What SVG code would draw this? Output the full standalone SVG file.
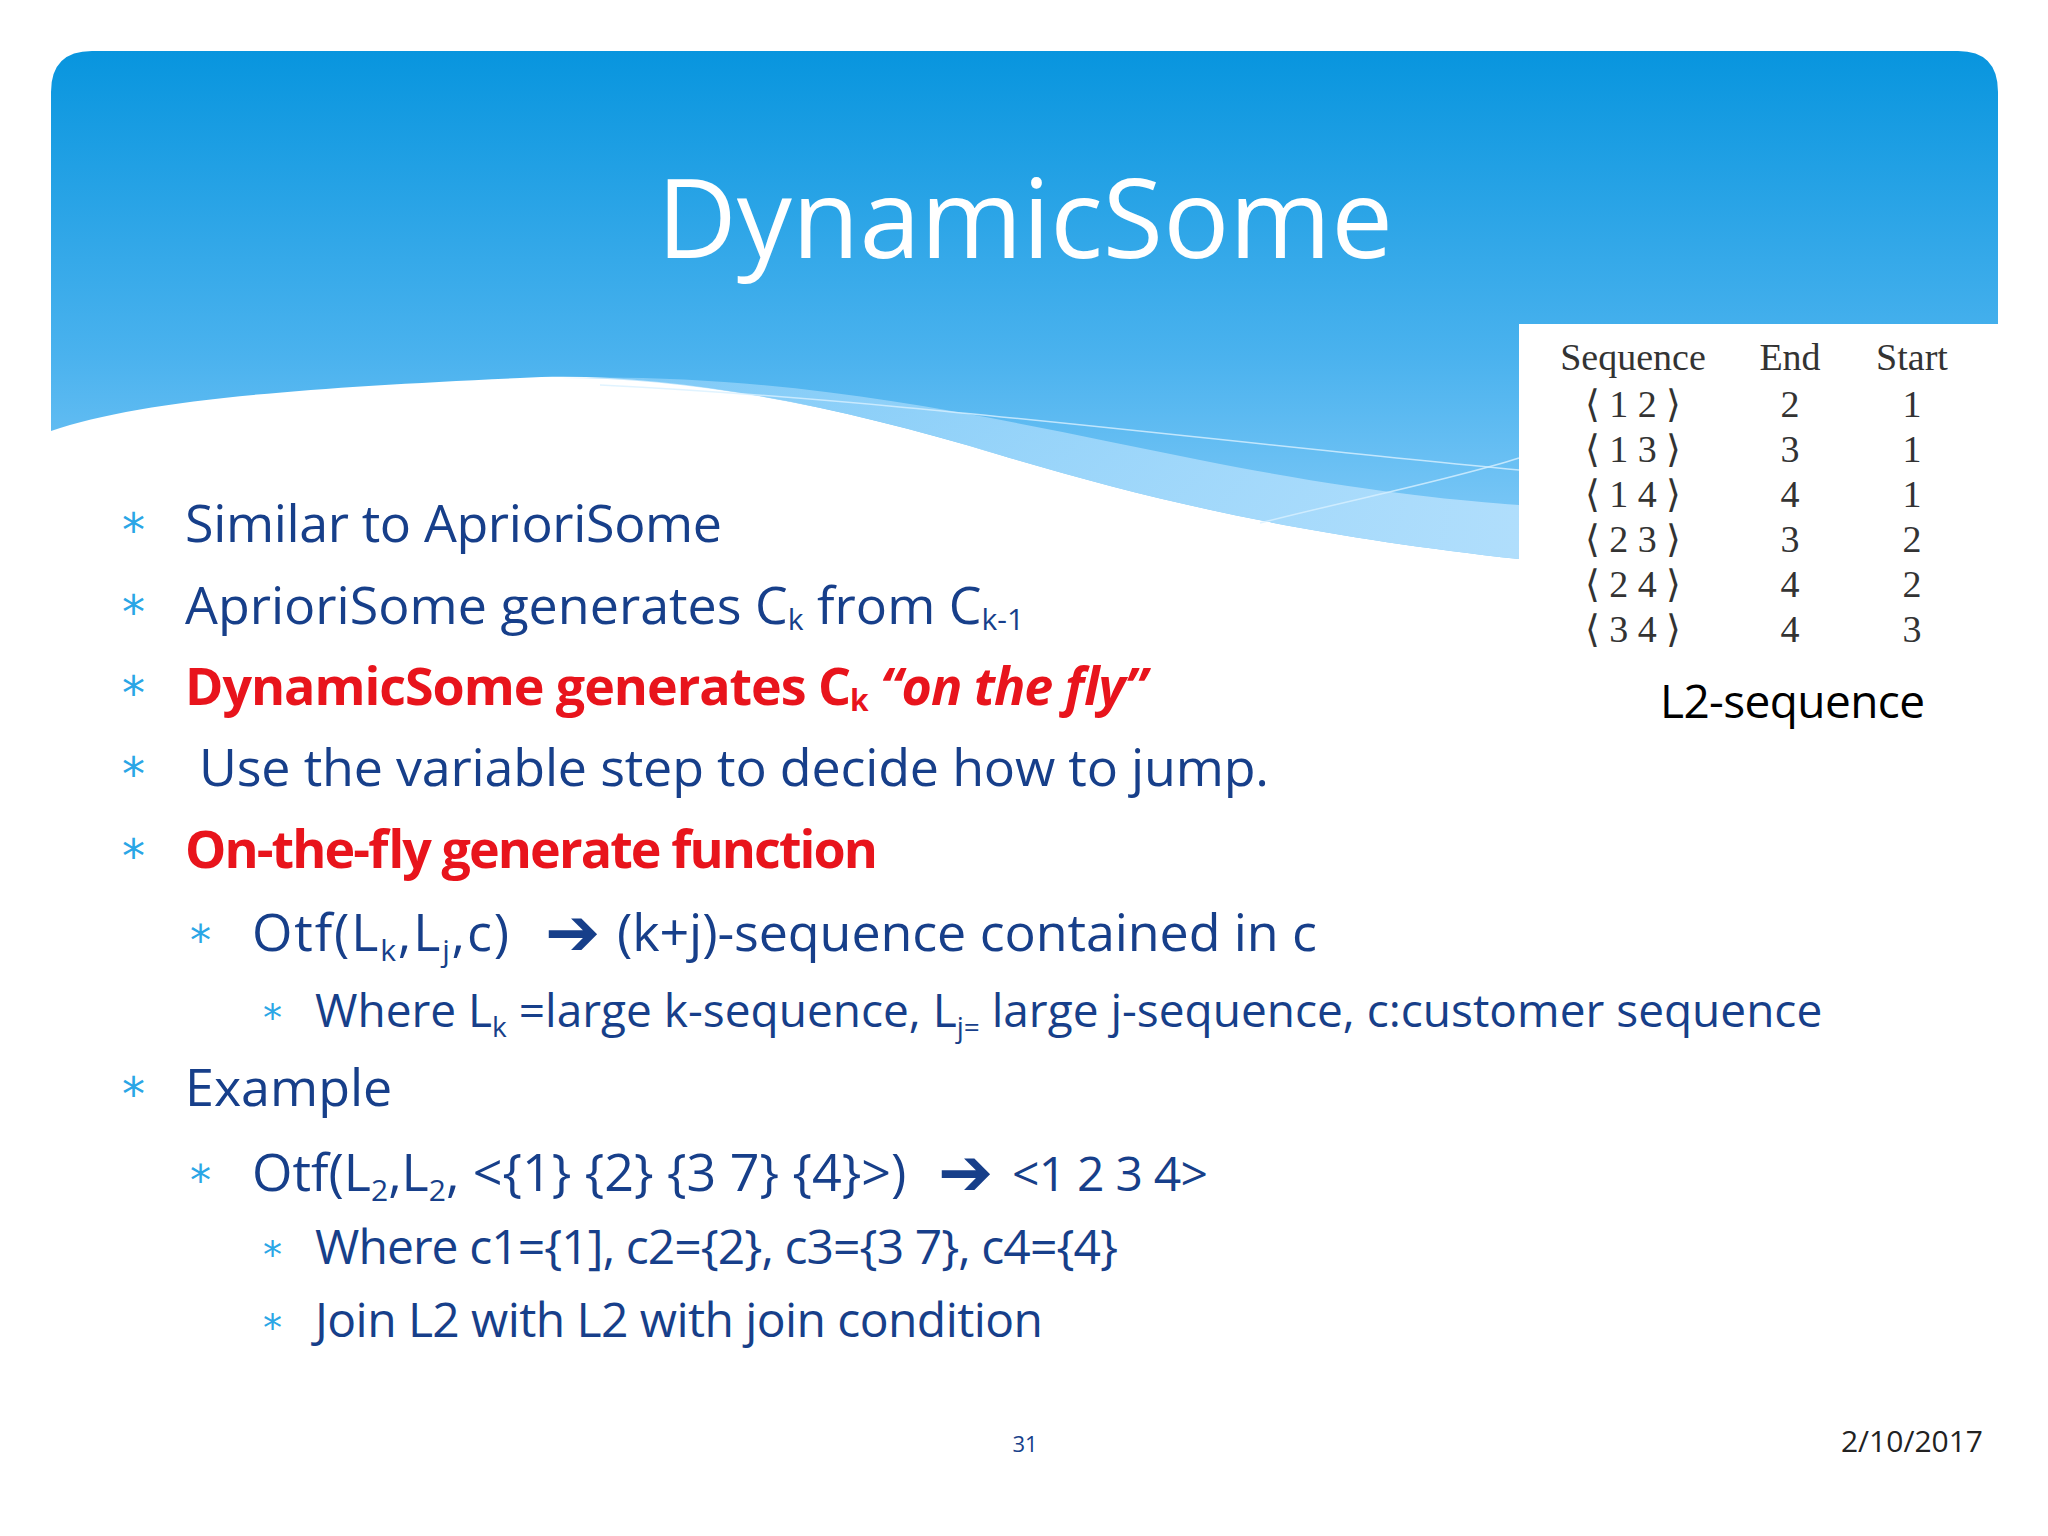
<svg xmlns="http://www.w3.org/2000/svg" width="2048" height="1536" viewBox="0 0 2048 1536">
<defs>
<linearGradient id="hg" x1="0" y1="0" x2="0" y2="1">
<stop offset="0" stop-color="#0895de"/><stop offset="0.6" stop-color="#4ab2ee"/><stop offset="1" stop-color="#86ccf8"/>
</linearGradient>
<linearGradient id="band" x1="0" y1="0" x2="1" y2="0">
<stop offset="0" stop-color="#9ad6fb" stop-opacity="0.6"/><stop offset="1" stop-color="#b0defc"/>
</linearGradient>
</defs>
<style>
.t{font-family:"Open Sans","Liberation Sans",sans-serif;fill:#173f8a}
.r{font-family:"Open Sans","Liberation Sans",sans-serif;fill:#e8141c;font-weight:bold}
.a{font-family:"DejaVu Sans",sans-serif;fill:#2aa6e6}
.tb{font-family:"Liberation Serif",serif;fill:#333;font-size:38px;text-anchor:middle}
.ar{font-family:"DejaVu Sans",sans-serif;fill:#173f8a;font-weight:bold}
</style>
<rect width="2048" height="1536" fill="#fff"/>
<g id="header">
<path d="M51,92 Q51,51 92,51 H1958 Q1998,51 1998,92 V324 H1519 V559 C1300,535 1150,500 1000,455 C820,400 650,370 520,378 C300,388 140,400 51,431 Z" fill="url(#hg)"/>
<path d="M560,378 C800,372 1000,420 1200,460 C1350,490 1450,500 1519,505 V559 C1300,535 1150,500 1000,455 C820,400 680,378 560,378 Z" fill="url(#band)"/>
<path d="M600,385 C900,400 1200,440 1519,470" fill="none" stroke="#d8f0ff" stroke-width="1.5" opacity="0.8"/>
<path d="M1260,523 C1350,500 1450,480 1519,458" fill="none" stroke="#d8f0ff" stroke-width="1.5" opacity="0.8"/>
<text x="1025" y="258" font-family="Open Sans,Liberation Sans,sans-serif" font-size="110" fill="#fff" text-anchor="middle">DynamicSome</text>
</g>
<g id="table">
<text class="tb" x="1633" y="370">Sequence</text>
<text class="tb" x="1790" y="370">End</text>
<text class="tb" x="1912" y="370">Start</text>
<text class="tb" x="1633" y="417">⟨ 1 2 ⟩</text><text class="tb" x="1790" y="417">2</text><text class="tb" x="1912" y="417">1</text>
<text class="tb" x="1633" y="462">⟨ 1 3 ⟩</text><text class="tb" x="1790" y="462">3</text><text class="tb" x="1912" y="462">1</text>
<text class="tb" x="1633" y="507">⟨ 1 4 ⟩</text><text class="tb" x="1790" y="507">4</text><text class="tb" x="1912" y="507">1</text>
<text class="tb" x="1633" y="552">⟨ 2 3 ⟩</text><text class="tb" x="1790" y="552">3</text><text class="tb" x="1912" y="552">2</text>
<text class="tb" x="1633" y="597">⟨ 2 4 ⟩</text><text class="tb" x="1790" y="597">4</text><text class="tb" x="1912" y="597">2</text>
<text class="tb" x="1633" y="642">⟨ 3 4 ⟩</text><text class="tb" x="1790" y="642">4</text><text class="tb" x="1912" y="642">3</text>
<text x="1660" y="718" font-family="Open Sans,Liberation Sans,sans-serif" font-size="46" fill="#000" textLength="265">L2-sequence</text>
</g>
<g id="bullets">
<text class="a" x="122" y="546" font-size="46">*</text>
<text class="t" x="185" y="542" font-size="52" textLength="537">Similar to AprioriSome</text>
<text class="a" x="122" y="628" font-size="46">*</text>
<text class="t" x="185" y="624" font-size="52">AprioriSome generates C<tspan font-size="30" dy="6">k</tspan><tspan dy="-6"> from C</tspan><tspan font-size="30" dy="6">k-1</tspan></text>
<text class="a" x="122" y="709" font-size="46">*</text>
<text class="r" x="185" y="705" font-size="52" textLength="962">DynamicSome generates C<tspan font-size="30" dy="6">k</tspan><tspan dy="-6" font-style="italic"> “on the fly”</tspan></text>
<text class="a" x="122" y="790" font-size="46">*</text>
<text class="t" x="199" y="786" font-size="52" textLength="1070">Use the variable step to decide how to jump.</text>
<text class="a" x="122" y="872" font-size="46">*</text>
<text class="r" x="185" y="868" font-size="52" textLength="693">On-the-fly generate function</text>
<text class="a" x="190" y="955" font-size="42">*</text>
<text class="t" x="252" y="951" font-size="52" textLength="257">Otf(L<tspan font-size="30" dy="10">k</tspan><tspan dy="-10">,L</tspan><tspan font-size="30" dy="10">j</tspan><tspan dy="-10">,c)</tspan></text>
<text class="ar" x="545" y="955" font-size="66">➔</text>
<text class="t" x="617" y="951" font-size="52" textLength="700">(k+j)-sequence contained in c</text>
<text class="a" x="263" y="1031" font-size="38">*</text>
<text class="t" x="315" y="1027" font-size="46">Where L<tspan font-size="28" dy="10">k</tspan><tspan dy="-10"> =large k-sequence, L</tspan><tspan font-size="28" dy="10">j=</tspan><tspan dy="-10"> large j-sequence, c:customer sequence</tspan></text>
<text class="a" x="122" y="1110" font-size="46">*</text>
<text class="t" x="185" y="1106" font-size="52">Example</text>
<text class="a" x="190" y="1195" font-size="42">*</text>
<text class="t" x="252" y="1191" font-size="52">Otf(L<tspan font-size="30" dy="10">2</tspan><tspan dy="-10">,L</tspan><tspan font-size="30" dy="10">2</tspan><tspan dy="-10">, &lt;{1} {2} {3 7} {4}&gt;)</tspan></text>
<text class="ar" x="938" y="1195" font-size="66">➔</text>
<text class="t" x="1012" y="1191" font-size="48" textLength="196">&lt;1 2 3 4&gt;</text>
<text class="a" x="263" y="1268" font-size="38">*</text>
<text class="t" x="315" y="1264" font-size="48" textLength="803">Where c1={1], c2={2}, c3={3  7}, c4={4}</text>
<text class="a" x="263" y="1341" font-size="38">*</text>
<text class="t" x="315" y="1337" font-size="48" textLength="728">Join L2 with L2 with join condition</text>
</g>
<g id="footer">
<text x="1025" y="1452" font-family="Open Sans,Liberation Sans,sans-serif" font-size="22" fill="#173f8a" text-anchor="middle">31</text>
<text x="1983" y="1452" font-family="Open Sans,Liberation Sans,sans-serif" font-size="30" fill="#222" text-anchor="end">2/10/2017</text>
</g>
</svg>
